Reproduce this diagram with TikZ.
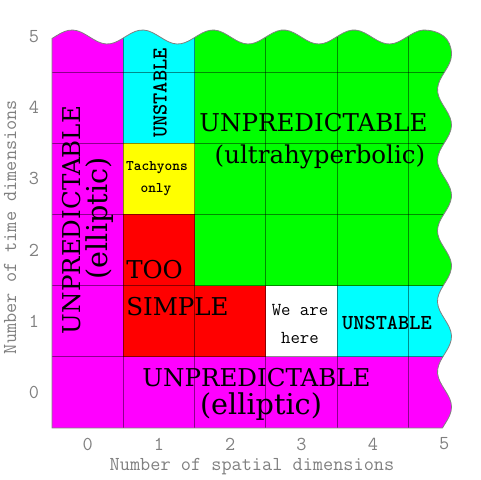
\documentclass[tikz,border=0pt]{standalone}
\usepackage{fontspec}
\newfontfamily\labserif{DejaVu Serif}
\definecolor{cmag}{RGB}{255,0,255}
\definecolor{ccyan}{RGB}{0,255,255}
\definecolor{cgreen}{RGB}{0,255,0}
\definecolor{cyellow}{RGB}{255,255,0}
\definecolor{cred}{RGB}{255,0,0}
\definecolor{axgray}{RGB}{128,128,128}
\newcommand{\wavyregion}{(52,428) -- (52,38.5) -- plot[domain=52:423,samples=90] (\x,{37-7*cos(((\x-72)/70.5)*360)}) .. controls (440,30) and (451.5,38) .. (451.5,54.5) -- plot[domain=54.5:428,samples=90] ({444.5+7*cos(((\x-407)/70.5)*360)},\x) -- cycle}
\begin{document}
\begin{tikzpicture}[x=0.75pt,y=-0.75pt,
  bigtxt/.style={font=\labserif\fontsize{18.4}{22}\selectfont, inner sep=0pt},
  ulttxt/.style={font=\labserif\fontsize{18.4}{22}\selectfont, inner sep=0pt},
  elltxt/.style={font=\labserif\fontsize{21.5}{25}\selectfont, inner sep=0pt},
  boldtxt/.style={font=\ttfamily\bfseries\fontsize{16}{19}\selectfont, inner sep=0pt},
  smallbold/.style={font=\ttfamily\bfseries\fontsize{11}{13}\selectfont, inner sep=0pt},
  heretxt/.style={font=\ttfamily\fontsize{13.7}{16}\selectfont, inner sep=0pt},
  axlabel/.style={text=axgray, font=\ttfamily\fontsize{14.8}{17}\selectfont, inner sep=0pt},
  gridln/.style={black, opacity=0.45, line width=0.6}]
\useasboundingbox (0,0) rectangle (480,480);
\begin{scope}
  \clip \wavyregion;
  \fill[cmag] (52,0) rectangle (123.3,428);
  \fill[cmag] (52,356.8) rectangle (480,428);
  \fill[cred] (123.3,214.4) rectangle (194.6,356.8);
  \fill[cred] (194.6,285.6) rectangle (265.9,356.8);
  \fill[cyellow] (123.3,143.2) rectangle (194.6,214.4);
  \fill[ccyan] (123.3,0) rectangle (194.6,143.2);
  \fill[ccyan] (337.2,285.6) rectangle (480,356.8);
  \fill[cgreen] (194.6,0) rectangle (480,285.6);
  \fill[white] (265.9,285.6) rectangle (337.2,356.8);
  \foreach \gx in {123.3,194.6,265.9,337.2,408.5}
    \draw[gridln] (\gx,0) -- (\gx,428);
  \foreach \gy in {356.8,285.6,214.4,143.2,72}
    \draw[gridln] (52,\gy) -- (480,\gy);
\end{scope}
\draw[axgray, line width=0.6] \wavyregion;
% region labels
\node[bigtxt, rotate=90] (lunp) at (72,220) {UNPREDICTABLE};
\node[elltxt, rotate=90] (lell) at (100,218.5) {(elliptic)};
\node[bigtxt] (tunp) at (313.5,123) {UNPREDICTABLE};
\node[ulttxt] (tult) at (320,157) {(ultrahyperbolic)};
\node[bigtxt] (bunp) at (256.5,378) {UNPREDICTABLE};
\node[elltxt] (bell) at (261,407) {(elliptic)};
\node[boldtxt, rotate=90] (vuns) at (160,93) {UNSTABLE};
\node[smallbold] (tach) at (157,168) {Tachyons};
\node[smallbold] (only) at (156,190) {only};
\node[bigtxt, anchor=west] (too) at (126,270) {TOO};
\node[bigtxt, anchor=west] (simple) at (126,307) {SIMPLE};
\node[heretxt] (weare) at (300,310) {We are};
\node[heretxt] (here) at (300,338) {here};
\node[boldtxt] (huns) at (387,323) {UNSTABLE};
% axes
\foreach \i/\cx in {0/87.65,1/158.95,2/230.25,3/301.55,4/372.85,5/444.15}
  \node[axlabel] (xt\i) at (\cx,444) {\i};
\foreach \i/\cy in {0/392.4,1/321.2,2/250,3/178.8,4/107.6,5/36.4}
  \node[axlabel] (yt\i) at (34,\cy) {\i};
\node[axlabel] (xlab) at (252,467) {Number of spatial dimensions};
\node[axlabel, rotate=90] (ylab) at (10,227) {Number of time dimensions};
\end{tikzpicture}
\end{document}
